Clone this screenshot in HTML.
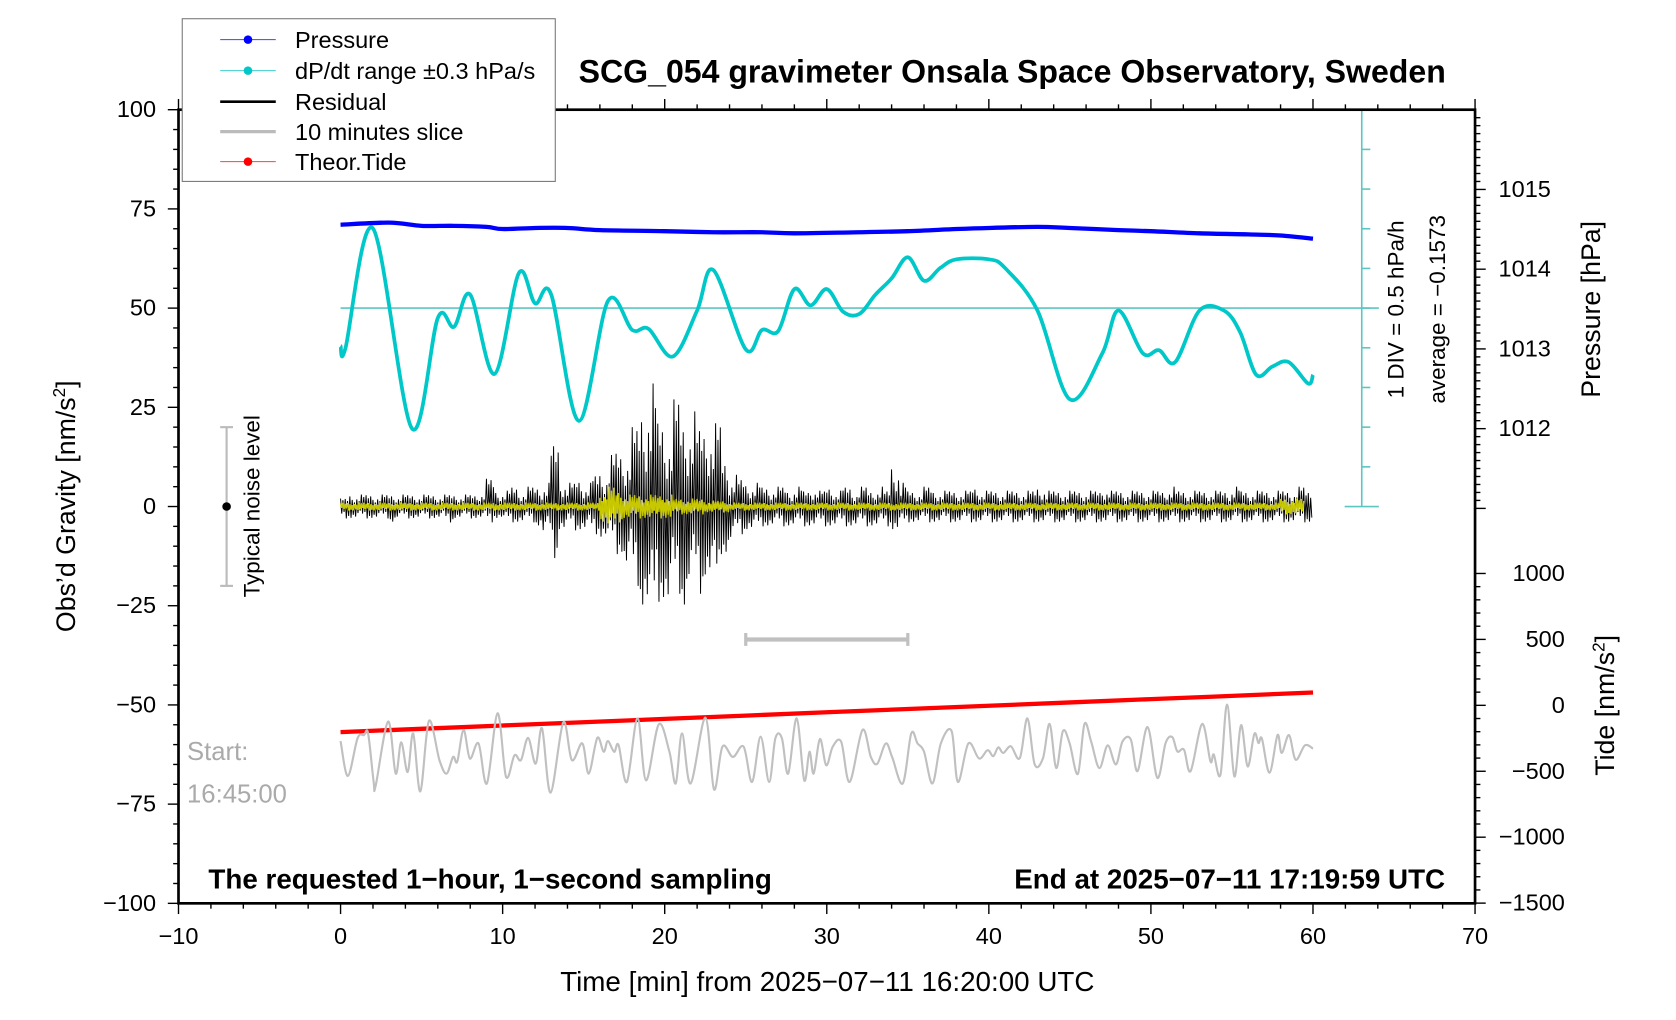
<!DOCTYPE html>
<html><head><meta charset="utf-8"><style>
html,body{margin:0;padding:0;background:#fff;}
svg{display:block;font-family:"Liberation Sans",Arial,sans-serif;}
</style></head><body>
<svg id="chart" width="1676" height="1020" viewBox="0 0 1568 953" preserveAspectRatio="none" xmlns="http://www.w3.org/2000/svg">
<rect x="0" y="0" width="1568" height="953" fill="#fff"/>
<g id="marks"></g>
<g id="axes"></g>
<text x="947" y="77" text-anchor="middle" font-size="30" font-weight="bold">SCG_054 gravimeter Onsala Space Observatory, Sweden</text>
<text x="774" y="926" text-anchor="middle" font-size="26">Time [min] from 2025−07−11 16:20:00 UTC</text>
<text transform="translate(70,473) rotate(-90)" text-anchor="middle" font-size="25">Obs’d Gravity [nm/s<tspan dy="-9" font-size="16">2</tspan><tspan dy="9">]</tspan></text>
<text transform="translate(1497,289) rotate(-90)" text-anchor="middle" font-size="25">Pressure [hPa]</text>
<text transform="translate(1510,659) rotate(-90)" text-anchor="middle" font-size="25">Tide [nm/s<tspan dy="-9" font-size="16">2</tspan><tspan dy="9">]</tspan></text>
<text transform="translate(1313,289) rotate(-90)" text-anchor="middle" font-size="21">1 DIV = 0.5 hPa/h</text>
<text transform="translate(1352,289) rotate(-90)" text-anchor="middle" font-size="21">average = −0.1573</text>
<text transform="translate(243,473) rotate(-90)" text-anchor="middle" font-size="21">Typical noise level</text>
<text x="175" y="710" font-size="24" fill="#aaa">Start:</text>
<text x="175" y="750" font-size="24" fill="#aaa">16:45:00</text>
<text x="195" y="830" font-size="26" font-weight="bold">The requested 1−hour, 1−second sampling</text>
<text x="1352" y="830" text-anchor="end" font-size="26" font-weight="bold">End at 2025−07−11 17:19:59 UTC</text>
<g>
<rect x="170.5" y="17.5" width="349" height="152" fill="#fff" stroke="#777" stroke-width="1"/>
<line x1="206" y1="37" x2="258" y2="37" stroke="#4040ff" stroke-width="1"/><circle cx="232" cy="37" r="4" fill="#0000ff"/>
<text x="276" y="45" font-size="22">Pressure</text>
<line x1="206" y1="66" x2="258" y2="66" stroke="#40d0d0" stroke-width="1"/><circle cx="232" cy="66" r="4" fill="#00c8c8"/>
<text x="276" y="74" font-size="22">dP/dt range ±0.3 hPa/s</text>
<line x1="206" y1="95" x2="258" y2="95" stroke="#000" stroke-width="2.5"/>
<text x="276" y="103" font-size="22">Residual</text>
<line x1="206" y1="123" x2="258" y2="123" stroke="#bbb" stroke-width="3"/>
<text x="276" y="131" font-size="22">10 minutes slice</text>
<line x1="206" y1="151" x2="258" y2="151" stroke="#ff4040" stroke-width="1"/><circle cx="232" cy="151" r="4" fill="#ff0000"/>
<text x="276" y="159" font-size="22">Theor.Tide</text>
</g>
</svg>
<script>
// ---- data ----
var xTicks = [-10,0,10,20,30,40,50,60,70];
var gravTicks = [100,75,50,25,0,-25,-50,-75,-100];
var pressTicks = [1015,1014,1013,1012];
var tideTicks = [1000,500,0,-500,-1000,-1500];
var pressTime = [0,3,5,7,9,10,12,14,16,20,23,26,28,32,35,38,40,43,45,48,50,53,56,58,60];
var pressVal = [1014.557,1014.584,1014.544,1014.544,1014.530,1014.503,1014.517,1014.517,1014.490,1014.477,1014.463,1014.463,1014.450,1014.463,1014.477,1014.503,1014.517,1014.530,1014.517,1014.490,1014.477,1014.450,1014.436,1014.423,1014.383];
var dpdtTime = [0,0.3,2,4.4,6,7,8,9.5,11,12,13,14.7,16.5,18,19,20.5,22,23,25,26,27,28,29,30,31,32,33,34,35,36,37,38,40,41,43,45,47,48,49.5,50.5,51.5,53,54.5,55.5,56.5,57.5,58.5,59.7,60];
var dpdtScaled = [40.5,39.9,70.1,19.7,47.5,45.3,53.4,33.4,58.8,51.2,53.4,21.6,51.8,44.5,44.8,37.8,49.4,59.6,39.6,44.5,44.2,54.8,50.7,54.8,49.1,48.5,53.4,57.5,62.8,56.9,60.1,62.3,62.3,60.1,49.4,27,38.6,49.4,38.6,39.4,36.4,49.4,49.4,44,33.2,35.3,36.4,31,33.2];
var dpdtCenter = 50;
var tideTime = [0,10,20,30,40,50,60];
var tideVal = [-203,-153,-103,-53,-3,47,97];
var sliceTime = [0,0.45,1.05,1.44,1.7,2.04,2.17,2.93,3.4,3.74,4.14,4.48,4.92,5.45,6.1,6.54,6.94,7.2,7.59,7.98,8.51,9.03,9.69,10.21,10.73,11.13,11.57,12.04,12.43,12.96,13.74,14.27,14.92,15.31,15.84,16.23,16.49,16.88,17.15,17.67,18.32,18.85,19.63,20.29,20.68,21.07,21.6,22.51,23.04,23.56,24.21,24.87,25.39,25.92,26.44,26.83,27.23,27.62,28.14,28.61,28.93,29.19,29.58,29.97,30.37,30.89,31.41,32.2,32.72,33.12,33.64,34.03,34.69,35.21,35.6,36.0,36.52,37.04,37.7,38.09,38.74,39.4,39.92,40.27,40.58,40.89,41.36,41.91,42.38,42.83,43.34,43.75,44.16,44.57,44.98,45.49,45.9,46.31,46.82,47.33,47.84,48.25,48.76,49.17,49.79,50.4,50.91,51.32,51.63,52.04,52.45,53.16,53.67,53.88,54.29,54.7,55.15,55.56,55.97,56.38,56.64,56.85,57.32,57.81,58.07,58.52,58.93,59.5,60];
var sliceVal = [-59.1,-67.9,-58.4,-57.6,-57.2,-69.4,-70.3,-54.2,-67.3,-59.4,-66.9,-57.2,-71.8,-54.0,-63.9,-67.3,-63.1,-64.3,-56.3,-63.5,-59.7,-69.8,-52.1,-68.1,-62.7,-63.9,-58.3,-64.8,-55.9,-72.1,-54.4,-63.9,-59.7,-67.3,-58.3,-61.8,-59.1,-61.8,-60.1,-69.4,-53.4,-69.0,-54.9,-61.8,-69.8,-57.2,-69.8,-53.2,-71.3,-60.5,-63.1,-60.5,-69.4,-58.0,-69.4,-58.4,-58.4,-67.3,-53.4,-69.0,-61.8,-67.3,-58.6,-65.2,-60.5,-59.3,-69.4,-56.3,-63.1,-64.8,-59.7,-63.1,-69.8,-57.2,-59.7,-61.8,-69.8,-59.7,-56.6,-69.4,-59.7,-63.5,-61.4,-62.9,-60.7,-62.1,-60.4,-63.4,-53.4,-65.0,-63.4,-54.8,-65.9,-56.6,-59.6,-67.4,-54.8,-59.2,-65.9,-60.2,-65.0,-59.2,-58.7,-66.7,-55.6,-68.4,-59.6,-58.1,-61.7,-61.3,-66.7,-54.8,-64.2,-62.5,-67.6,-49.9,-68.0,-55.1,-65.5,-57.3,-59.6,-58.5,-67.1,-57.6,-62.1,-57.6,-63.8,-60.2,-61];
// residual envelope every 0.5 min (0..60)
var residualUp = [2,3,3,3,3,3,3,3,3,3,3,3,3,3,3,3,3,4,7,4,4,5,4,5,5,6,16,7,6,7,6,8,9,13,14,15,20,25,31,22,20,27,22,24,20,22,21,12,8,7,6,6,5,5,5,4,5,4,5,4,5,4,5,4,5,4,5,4,11,6,4,4,5,4,4,4,4,4,5,4,4,4,4,4,4,4,5,4,4,4,4,4,4,4,5,4,4,4,4,4,4,4,5,4,4,4,4,4,4,4,5,4,4,4,4,4,4,4,5,4,4];
var residualDown = [-3,-3,-3,-3,-3,-3,-4,-3,-3,-3,-3,-3,-3,-4,-3,-3,-3,-3,-4,-3,-4,-4,-4,-4,-5,-7,-13,-6,-5,-6,-6,-7,-8,-10,-12,-16,-20,-26,-31,-24,-26,-22,-26,-20,-22,-18,-24,-12,-9,-7,-6,-6,-5,-5,-5,-5,-5,-5,-5,-5,-5,-5,-5,-5,-5,-5,-5,-5,-6,-5,-4,-4,-4,-4,-4,-4,-4,-4,-4,-4,-4,-4,-4,-4,-4,-4,-4,-4,-4,-4,-4,-4,-4,-4,-4,-4,-4,-4,-4,-4,-4,-4,-4,-4,-4,-4,-4,-4,-4,-4,-4,-4,-4,-4,-4,-4,-4,-4,-4,-4,-4];
var yellowAmp = [1,1,1,1,1,1,1,1,1,1,1,1,1,1,1,1,1,1,1,1,1,1,1,1,1,1,1,1,1,1,1,1,4,5,4,3,3,3,3,3,3,2,2,2,2,1.5,1.5,1.5,1,1,1,1,1,1,1,1,1,1,1,1,1,1,1,1,1,1,1,1,1,1,1,1,1,1,1,1,1,1,1,1,1,1,1,1,1,1,1,1,1,1,1,1,1,1,1,1,1,1,1,1,1,1,1,1,1,1,1,1,1,1,1,1,1,1,1,1,2,2,2];

// ---- scales ----
var X0=167, X1=1380, Y0=102.5, Y1=844;
function sx(t){return X0+(t+10)*(X1-X0)/80;}
function sg(g){return Y1-(g+100)*(Y1-Y0)/200;}
function sp(p){return 177+(1015-p)*74.5;}
function st(v){return 659-v*0.1232;}
var NS="http://www.w3.org/2000/svg";
function mk(tag,attrs,parent){var e=document.createElementNS(NS,tag);for(var k in attrs)e.setAttribute(k,attrs[k]);parent.appendChild(e);return e;}
function smooth(pts){
  var d="M"+pts[0][0].toFixed(1)+","+pts[0][1].toFixed(1);
  for(var i=0;i<pts.length-1;i++){
    var p0=pts[Math.max(0,i-1)],p1=pts[i],p2=pts[i+1],p3=pts[Math.min(pts.length-1,i+2)];
    var c1x=p1[0]+(p2[0]-p0[0])/6,c1y=p1[1]+(p2[1]-p0[1])/6,c2x=p2[0]-(p3[0]-p1[0])/6,c2y=p2[1]-(p3[1]-p1[1])/6;
    d+=" C"+c1x.toFixed(1)+","+c1y.toFixed(1)+" "+c2x.toFixed(1)+","+c2y.toFixed(1)+" "+p2[0].toFixed(1)+","+p2[1].toFixed(1);
  }
  return d;
}
var marks=document.getElementById('marks'), axes=document.getElementById('axes');

// dP/dt reference scale
var cyanLine="#5cc6c2";
var c1=mk('line',{x1:sx(0),y1:sg(dpdtCenter),x2:1290,y2:sg(dpdtCenter),stroke:cyanLine,'stroke-width':1.5},marks);


var c2=mk('line',{x1:1274,y1:sg(100),x2:1274,y2:sg(0),stroke:cyanLine,'stroke-width':1.5},marks);


for(var i=0;i<=10;i++){
  var yy=sg(i*10), w=(i==0||i==10)?16:8;
  mk('line',{x1:1274-(i==0||i==10?16:0),y1:yy,x2:1274+w,y2:yy,stroke:cyanLine,'stroke-width':1.5},marks);
}

// pressure
var pp=pressTime.map(function(t,i){return [sx(t),sp(pressVal[i])];});
var pl=mk('path',{d:smooth(pp),fill:'none',stroke:'#0000ff','stroke-width':4},marks);



// dpdt curve
var dp=dpdtTime.map(function(t,i){return [sx(t),sg(dpdtScaled[i])];});
var dl=mk('path',{d:smooth(dp),fill:'none',stroke:'#00c8c8','stroke-width':3.5},marks);



// residual
var pat=[1,0.55,0.8,0.35,0.95,0.6,0.7,0.45,0.85];
var rd="", yd="";
for(var i=0;i<residualUp.length-1;i++){
  for(var k=0;k<7;k++){
    var t=i*0.5+k*0.5/7, n=i*7+k;
    var v=(n%2==0)?residualUp[i]*pat[n%9]:residualDown[i]*pat[(n+4)%9];
    rd+=(n==0?"M":"L")+sx(t).toFixed(1)+","+sg(v).toFixed(1);
    var yv=((n%2==0)?1:-1)*yellowAmp[i]*pat[(n+2)%9];
    yd+=(n==0?"M":"L")+sx(t).toFixed(1)+","+sg(yv).toFixed(1);
  }
}
var rl=mk('path',{d:rd,fill:'none',stroke:'#000','stroke-width':0.9},marks);


var yl=mk('path',{d:yd,fill:'none',stroke:'#c8c800','stroke-width':1.3},marks);



// tide
var tp=tideTime.map(function(t,i){return [sx(t),st(tideVal[i])];});
var tl=mk('path',{d:smooth(tp),fill:'none',stroke:'#ff0000','stroke-width':4},marks);



// slice
var sp2=sliceTime.map(function(t,i){return [sx(t),sg(sliceVal[i])];});
var sl=mk('path',{d:smooth(sp2),fill:'none',stroke:'#c0c0c0','stroke-width':2},marks);



// slice bracket
var sb=mk('g',{stroke:'#c0c0c0','stroke-width':4},marks);


mk('line',{x1:sx(25),y1:sg(-33.5),x2:sx(35),y2:sg(-33.5)},sb);
mk('line',{x1:sx(25),y1:sg(-33.5)-6,x2:sx(25),y2:sg(-33.5)+6,'stroke-width':3},sb);
mk('line',{x1:sx(35),y1:sg(-33.5)-6,x2:sx(35),y2:sg(-33.5)+6,'stroke-width':3},sb);

// noise bar
var nb=mk('g',{stroke:'#bbb','stroke-width':2},marks);


mk('line',{x1:212,y1:sg(20),x2:212,y2:sg(-20)},nb);
mk('line',{x1:206,y1:sg(20),x2:218,y2:sg(20)},nb);
mk('line',{x1:206,y1:sg(-20),x2:218,y2:sg(-20)},nb);
mk('circle',{cx:212,cy:sg(0),r:4,fill:'#000',stroke:'none'},nb);

// frame
var fr=mk('rect',{x:X0,y:Y0,width:X1-X0,height:Y1-Y0,fill:'none',stroke:'#000','stroke-width':2.5},axes);


for(var t=-10;t<=70;t+=2){var maj=(t%10==0);
  mk('line',{x1:sx(t),y1:Y1,x2:sx(t),y2:Y1+(maj?10:5),stroke:'#000','stroke-width':1.3},axes);
  mk('line',{x1:sx(t),y1:Y0,x2:sx(t),y2:Y0-(maj?10:5),stroke:'#000','stroke-width':1.3},axes);}
xTicks.forEach(function(t){
  var e=mk('text',{x:sx(t),y:Y1+38,'text-anchor':'middle','font-size':22},axes);
  e.textContent=(t<0?"−"+(-t):""+t);
  
  
});
for(var g=-100;g<=100;g+=5){var maj=(g%25==0);
  mk('line',{x1:X0,y1:sg(g),x2:X0-(maj?10:5),y2:sg(g),stroke:'#000','stroke-width':1.3},axes);}
gravTicks.forEach(function(g){
  var e=mk('text',{x:146,y:sg(g)+7,'text-anchor':'end','font-size':22},axes);
  e.textContent=(g<0?"−"+(-g):""+g);
  
  
});
for(var p=10110;p<=10159;p++){var pv=p/10, maj=(p%10==0);
  mk('line',{x1:X1,y1:sp(pv),x2:X1+(maj?10:5),y2:sp(pv),stroke:'#000','stroke-width':1.3},axes);}
pressTicks.forEach(function(p){
  var e=mk('text',{x:1402,y:sp(p)+7,'font-size':22},axes);
  e.textContent=""+p;
  
  
});
for(var v=-1500;v<=1000;v+=100){var maj=(v%500==0);
  mk('line',{x1:X1,y1:st(v),x2:X1+(maj?10:5),y2:st(v),stroke:'#000','stroke-width':1.3},axes);}
tideTicks.forEach(function(v){
  var e=mk('text',{x:1464,y:st(v)+7,'text-anchor':'end','font-size':22},axes);
  e.textContent=(v<0?"−"+(-v):""+v);
  
  
});
</script>
</body></html>
